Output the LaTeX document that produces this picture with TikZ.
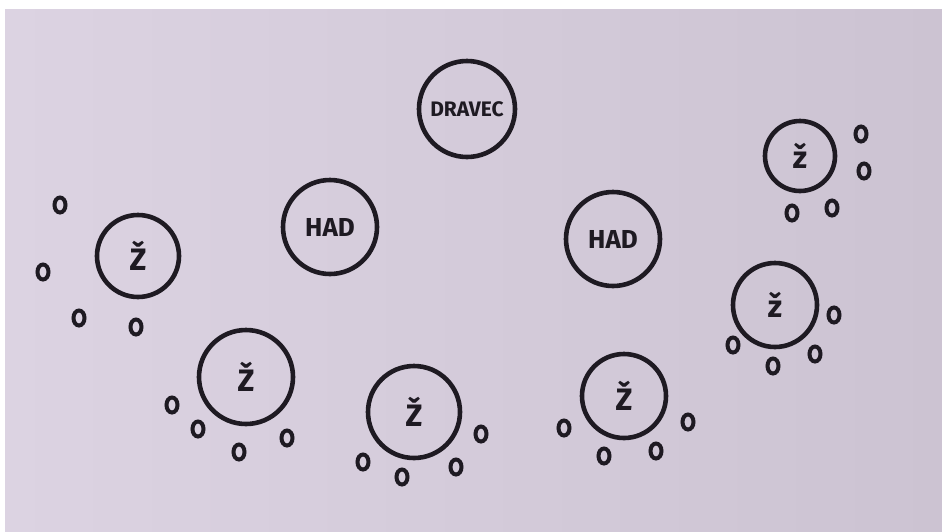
\documentclass[tikz,border=0pt]{standalone}
\usepackage{fontspec}
\setmainfont{Fira Sans}
\usetikzlibrary{shapes.geometric}
\definecolor{paper}{RGB}{220,211,226}
\definecolor{paperdark}{RGB}{204,195,210}
\definecolor{ink}{RGB}{30,26,34}
\tikzset{
  animal/.style={
    circle,
    draw=ink,
    line width=4.6pt,
    inner sep=0pt,
    text=ink,
  },
  egg/.style={
    ellipse,
    draw=ink,
    line width=4pt,
    minimum width=11pt,
    minimum height=15pt,
    inner sep=0pt,
  }
}

\begin{document}
\begin{tikzpicture}[x=1pt, y=-1pt]
    \useasboundingbox (0, 0) rectangle (942, 531);
    \fill[white] (0, 0) rectangle (942, 531);
    \shade[left color=paper, right color=paperdark] (5, 9) rectangle (942, 531);

    % predators
    \node[animal, minimum size=96pt, font=\fontsize{21}{21}\selectfont\bfseries] (dravec) at (467, 109) {DRAVEC};
    \node[animal, minimum size=94pt, font=\fontsize{26}{26}\selectfont\bfseries] (hadL) at (330, 227) {HAD};
    \node[animal, minimum size=94pt, font=\fontsize{26}{26}\selectfont\bfseries] (hadR) at (613, 239) {HAD};

    % frogs
    \node[animal, minimum size=82pt, font=\fontsize{31}{31}\selectfont\bfseries] (zabaA) at (138, 256) {Ž};
    \node[animal, minimum size=94pt, font=\fontsize{31}{31}\selectfont\bfseries] (zabaB) at (246, 377) {Ž};
    \node[animal, minimum size=92pt, font=\fontsize{31}{31}\selectfont\bfseries] (zabaC) at (414, 412) {Ž};
    \node[animal, minimum size=84pt, font=\fontsize{31}{31}\selectfont\bfseries] (zabaD) at (624, 396) {Ž};
    \node[animal, minimum size=84pt, font=\fontsize{31}{31}\selectfont\bfseries] (zabaE) at (775, 305) {ž};
    \node[animal, minimum size=70pt, font=\fontsize{31}{31}\selectfont\bfseries] (zabaF) at (800, 156) {ž};

    % eggs
    \foreach \x/\y [count=\i] in {60/205, 43/272, 79/318, 136/327,
                                  172/405, 198/429, 239/452, 287/438,
                                  363/462, 402/477, 456/467, 481/434,
                                  564/428, 604/456, 656/451, 688/422,
                                  733/345, 773/366, 815/354, 834/315,
                                  861/134, 864/171, 832/208, 792/213} {
        \node[egg] (egg\i) at (\x, \y) {};
    }
\end{tikzpicture}
\end{document}
